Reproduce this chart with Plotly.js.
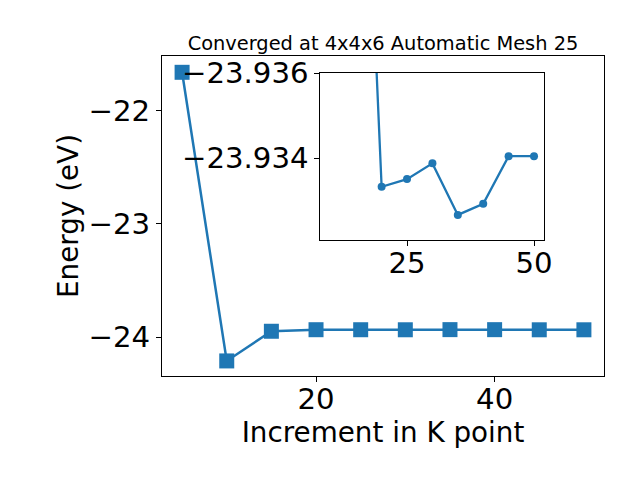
<!DOCTYPE html>
<html>
<head>
<meta charset="utf-8">
<script src="https://cdn.plot.ly/plotly-3.0.1.min.js"></script>
<style>html,body{margin:0;padding:0;background:#fff;}#chart{width:640px;height:480px;}</style>
</head>
<body>
<div id="chart"></div>
<script>
// Main series: k-point increment vs energy
const kPoints = [5, 10, 15, 20, 25, 30, 35, 40, 45, 50];
const energies = [-21.661, -24.209, -23.947, -23.93333, -23.93351, -23.93388, -23.93267, -23.93293, -23.93405, -23.93405];
// Inset (zoomed) series
const insetK = [15, 20, 25, 30, 35, 40, 45, 50];
const insetE = [-23.94695, -23.93333, -23.93351, -23.93388, -23.93267, -23.93293, -23.93405, -23.93405];
const mainYTicks = [-22, -23, -24];
const mainXTicks = [20, 40];
const insetYTicks = [-23.936, -23.934];
const insetXTicks = [25, 50];
const titleText = 'Converged at 4x4x6 Automatic Mesh 25';

const blue = '#1f77b4';
const font = 'DejaVu Sans, sans-serif';
const tickSize = 29.2;
const labelSize = 27.8;

const traces = [
  {x: kPoints, y: energies, type: 'scatter', mode: 'lines+markers',
   line: {color: blue, width: 2.5},
   marker: {symbol: 'square', size: 15, color: blue},
   xaxis: 'x', yaxis: 'y', cliponaxis: false, showlegend: false},
  {x: insetK, y: insetE, type: 'scatter', mode: 'lines+markers',
   line: {color: blue, width: 2.3},
   marker: {symbol: 'circle', size: 8, color: blue},
   xaxis: 'x2', yaxis: 'y2', showlegend: false}
];

const axCommon = {showgrid: false, zeroline: false, showline: true, linecolor: '#000', linewidth: 1,
  mirror: true, ticks: 'outside', ticklen: 5, tickwidth: 1, tickcolor: '#000',
  tickfont: {family: font, size: tickSize, color: '#000'}};

const layout = {
  width: 640, height: 480,
  margin: {l: 162, r: 36, t: 56, b: 104},
  paper_bgcolor: '#fff', plot_bgcolor: '#fff',
  font: {family: font, color: '#000'},
  title: {text: titleText, font: {family: font, size: 19.4, color: '#000'},
          x: 0.5, xref: 'paper', y: 1, yref: 'paper', yanchor: 'bottom', pad: {b: 6}},
  xaxis: Object.assign({}, axCommon, {range: [2.75, 52.25], tickvals: mainXTicks,
    domain: [0, 1], anchor: 'y', ticklabelstandoff: -8,
    title: {text: 'Increment in K point', font: {family: font, size: labelSize, color: '#000'}, standoff: 1}}),
  yaxis: Object.assign({}, axCommon, {range: [-24.342, -21.517], tickvals: mainYTicks,
    domain: [0, 1], anchor: 'x',
    title: {text: 'Energy (eV)', font: {family: font, size: labelSize, color: '#000'}, standoff: 1}}),
  xaxis2: Object.assign({}, axCommon, {range: [7.95, 51.97], tickvals: insetXTicks,
    domain: [0.3584, 0.8643], anchor: 'y2', ticklabelstandoff: -8}),
  yaxis2: Object.assign({}, axCommon, {range: [-23.93208, -23.93601], tickvals: insetYTicks,
    tickformat: '.3f', domain: [0.425, 0.9478], anchor: 'x2'})
};

Plotly.newPlot('chart', traces, layout, {displayModeBar: false, staticPlot: true});
</script>
</body>
</html>
